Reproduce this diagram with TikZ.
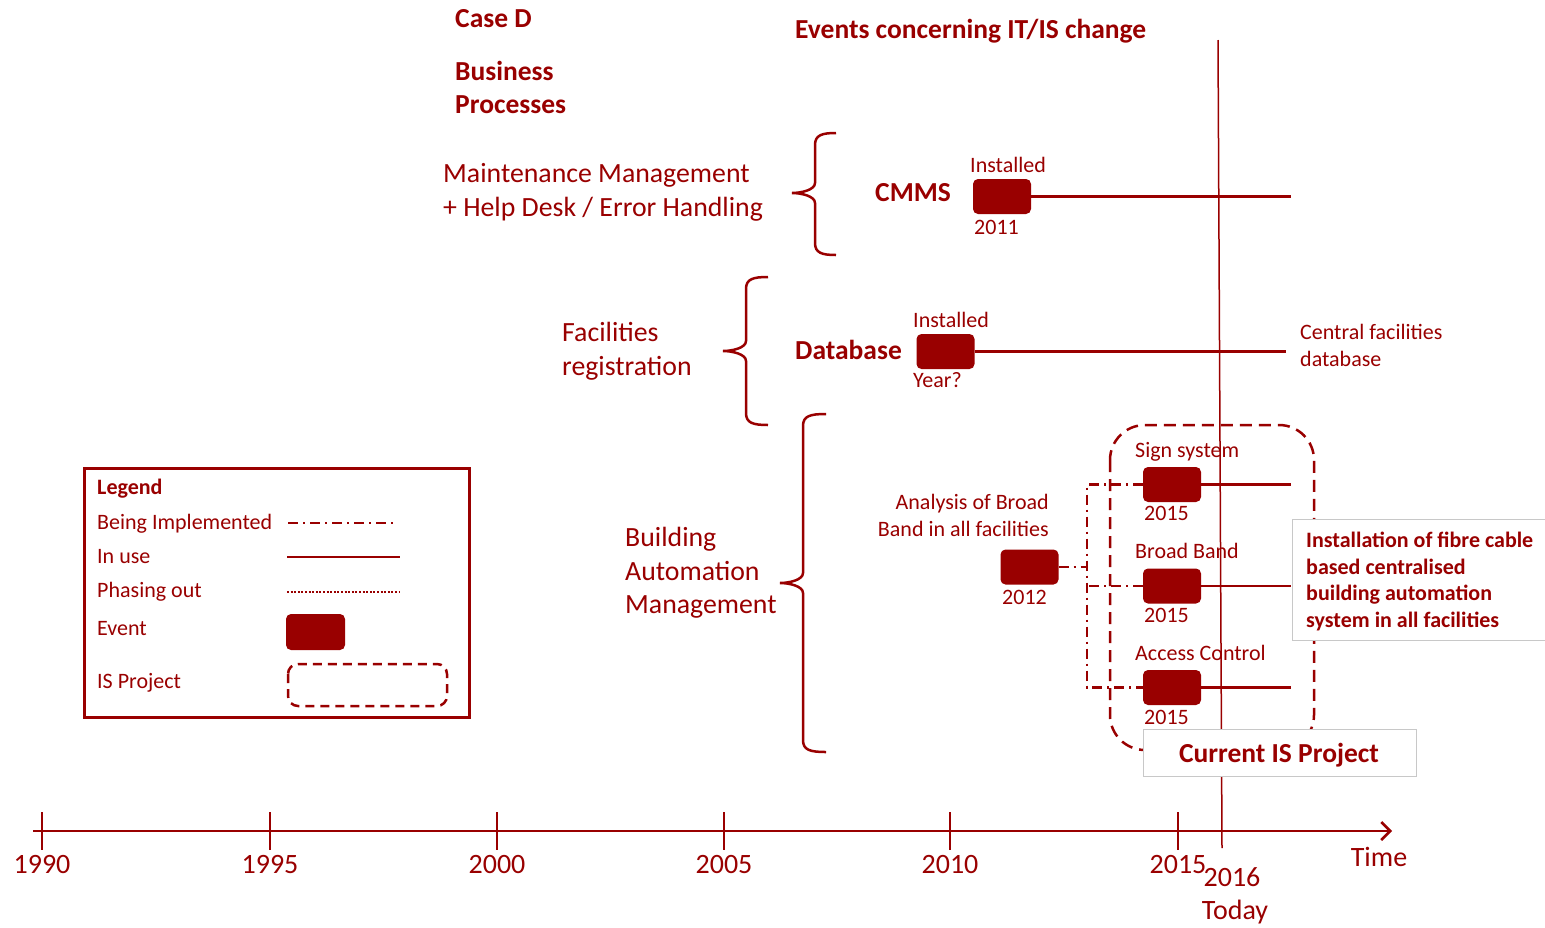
\documentclass[tikz,border=0pt]{standalone}
\usepackage{fontspec}
\setmainfont{Carlito}
\usetikzlibrary{arrows.meta}
\definecolor{dred}{RGB}{153,0,0}
\definecolor{bgrey}{RGB}{200,200,200}
\newcommand\DrawBrace[6]{%
 \draw[dred, line width=2.5pt] (#1,#4) .. controls (#2+7,#4) and (#2,#4+2) .. (#2,#4+12) -- (#2,#5-10) .. controls (#2,#5-3) and (#3+9,#5) .. (#3,#5) .. controls (#3+9,#5) and (#2,#5+3) .. (#2,#5+10) -- (#2,#6-12) .. controls (#2,#6-2) and (#2+7,#6) .. (#1,#6);}
\begin{document}
\begin{tikzpicture}[x=1pt,y=-1pt,
  every node/.style={text=dred, inner sep=0pt},
  txt/.style={anchor=base west, font=\fontsize{22}{26}\selectfont},
  big/.style={anchor=base west, font=\fontsize{27.8}{33}\selectfont},
  yr/.style={anchor=base, font=\fontsize{28}{33}\selectfont},
  bold/.style={anchor=base west, font=\fontsize{27.5}{33}\selectfont\bfseries},
  boldsm/.style={anchor=base west, font=\fontsize{22}{26}\selectfont\bfseries},
  evt/.style={fill=dred, draw=none, rounded corners=5pt, minimum width=58pt, minimum height=35pt},
  inuse/.style={draw=dred, line width=2.5pt},
  impl/.style={draw=dred, line width=2.5pt, dash pattern=on 10pt off 5pt on 2pt off 5pt},
  phase/.style={draw=dred, line width=2.5pt, dash pattern=on 2pt off 1.6pt},
  isproj/.style={draw=dred, line width=2.5pt, dash pattern=on 12pt off 7pt},
  greybox/.style={draw=bgrey, fill=white, line width=1pt},
  ]
\useasboundingbox (0,0) rectangle (1545,927);

% titles
\node[bold] (caseD) at (455,27) {Case D};
\node[bold] (bp1) at (455,80) {Business};
\node[bold] (bp2) at (455,113) {Processes};
\node[bold] (events) at (795,38) {Events concerning IT/IS change};

% today line
\draw[dred, line width=1.5pt] (1218,40) coordinate (todaytop) -- (1222,848) coordinate (todaybot);

% Maintenance
\node[big] (mm1) at (443,182) {Maintenance Management};
\node[big] (mm2) at (443,216) {+ Help Desk / Error Handling};
\DrawBrace{836}{815}{792}{133}{193}{255}
\node[bold] (cmmsl) at (875,201) {CMMS};
\node[evt] (cmms) at (1002,196.5) {};
\node[txt] (cmmsi) at (970,172) {Installed};
\node[txt] (cmmsy) at (974,234) {2011};
\draw[inuse] (cmms.east) -- ++(260,0) coordinate (cmmsend);

% Facilities
\node[big] (fr1) at (562,341) {Facilities};
\node[big] (fr2) at (562,375) {registration};
\DrawBrace{768}{746}{723}{277}{351}{425}
\node[bold] (dbl) at (795,359) {Database};
\node[evt] (db) at (945.5,351.5) {};
\node[txt] (dbi) at (913,327) {Installed};
\node[txt] (dby) at (913,387) {Year?};
\draw[inuse] (db.east) -- ++(311,0) coordinate (dbend);
\node[txt] (cf1) at (1300,339) {Central facilities};
\node[txt] (cf2) at (1300,366) {database};

% Building automation
\node[big] (ba1) at (625,546) {Building};
\node[big] (ba2) at (625,580) {Automation};
\node[big] (ba3) at (625,613) {Management};
\DrawBrace{826}{803}{780}{414}{583}{752}

% IS project frame
\draw[isproj, rounded corners=35pt] (1110,425) rectangle (1314,750);

\node[anchor=base east, font=\fontsize{22}{26}\selectfont] (an1) at (1049,509) {Analysis of Broad};
\node[anchor=base east, font=\fontsize{22}{26}\selectfont] (an2) at (1049,536) {Band in all facilities};
\node[evt] (a2012) at (1029.5,567) {};
\node[txt] (a2012y) at (1002,604) {2012};
\coordinate (jx) at (1087,567);
\draw[impl] (a2012.east) -- (jx);

\node[evt] (ss) at (1172,484.5) {};
\node[evt] (bb) at (1172,586) {};
\node[evt] (ac) at (1172,687.5) {};
\draw[impl] (ss.west) -- (ss.west -| jx) |- (ac.west);
\draw[impl] (bb.west) -- (bb.west -| jx);
\node[txt] (ssl) at (1135,457) {Sign system};
\node[txt] (ssy) at (1144,520) {2015};
\node[txt] (bbl) at (1135,558) {Broad Band};
\node[txt] (bby) at (1144,622) {2015};
\node[txt] (acl) at (1135,660) {Access Control};
\node[txt] (acy) at (1144,724) {2015};
\draw[inuse] (ss.east) -- ++(90,0) coordinate (ssend);
\draw[inuse] (bb.east) -- ++(90,0) coordinate (bbend);
\draw[inuse] (ac.east) -- ++(90,0) coordinate (acend);

% fibre box
\node[greybox, anchor=north west, minimum width=260pt, minimum height=121pt] (fibre) at (1292,519) {};
\node[boldsm] (fb1) at (1306,547) {Installation of fibre cable};
\node[boldsm] (fb2) at (1306,574) {based centralised};
\node[boldsm] (fb3) at (1306,600) {building automation};
\node[boldsm] (fb4) at (1306,627) {system in all facilities};

% current IS project
\node[greybox, anchor=north west, minimum width=273pt, minimum height=47pt] (cur) at (1143,729) {};
\node[anchor=base, font=\fontsize{27.5}{33}\selectfont\bfseries] (curl) at (1279,762) {Current IS Project};

% legend
\node[draw=dred, line width=2.5pt, anchor=north west, minimum width=385pt, minimum height=249pt] (legend) at (83,467) {};
\node[anchor=base west, font=\fontsize{22}{26}\selectfont\bfseries] (lg0) at (97,494) {Legend};
\node[txt] (lg1) at (97,529) {Being Implemented};
\node[txt] (lg2) at (97,563) {In use};
\node[txt] (lg3) at (97,597) {Phasing out};
\node[txt] (lg4) at (97,635) {Event};
\node[txt] (lg5) at (97,688) {IS Project};
\draw[impl] (288,523) -- (396,523);
\draw[inuse] (287,557) -- (400,557);
\draw[phase] (287,592) -- (399,592);
\node[evt, minimum width=59pt, minimum height=36pt] (lgevt) at (315.5,632) {};
\draw[draw=dred, line width=2.5pt, dash pattern=on 9pt off 6pt, rounded corners=10pt] (288,664) rectangle (447,706);

% time axis
\draw[dred, line width=2.5pt, -{Straight Barb[length=9pt, width=18pt]}] (33,831) coordinate (axstart) -- (1392,831) coordinate (axend);
\foreach \xx/\yy in {42/1990, 270/1995, 497/2000, 724/2005, 950/2010, 1178/2015}{
  \draw[dred, line width=2.5pt] (\xx,812) -- (\xx,850);
  \node[yr] (y\yy) at (\xx,873) {\yy};
}
\node[yr] (y2016) at (1232,886) {2016};
\node[yr] (today) at (1235,919) {Today};
\node[yr] (time) at (1379,866) {Time};
\end{tikzpicture}
\end{document}
